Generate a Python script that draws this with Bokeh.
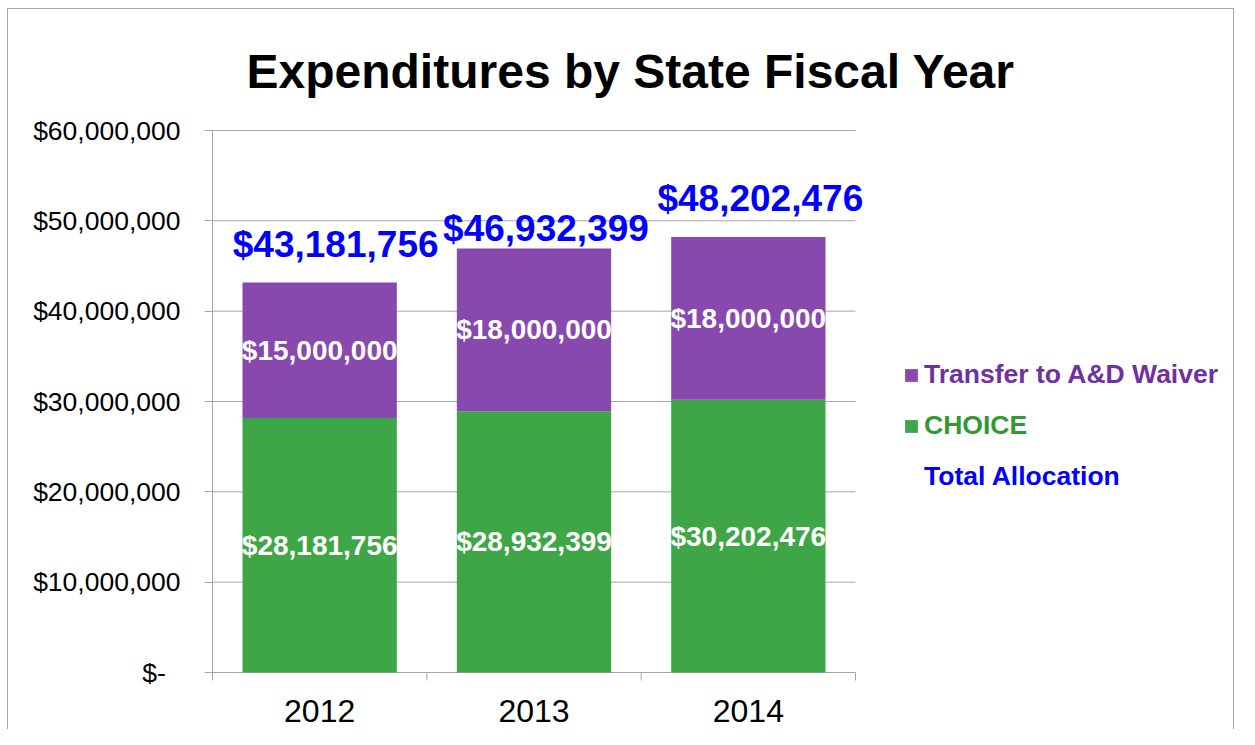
import math
from bokeh.plotting import figure
from bokeh.models import (Range1d, FixedTicker, Legend, LegendItem, ColumnDataSource, LabelSet)
from bokeh.core.properties import value
from bokeh.embed import file_html
from bokeh.resources import INLINE

years = ["2012", "2013", "2014"]
choice = [28181756, 28932399, 30202476]
transfer = [15000000, 18000000, 18000000]
y_ticks = [0, 10000000, 20000000, 30000000, 40000000, 50000000, 60000000]
y_tick_labels = ["$-\u00a0\u00a0", "$10,000,000", "$20,000,000", "$30,000,000",
                 "$40,000,000", "$50,000,000", "$60,000,000"]

# label placement (pixel offsets of the total labels, as in the original)
total_dx = [16, 12, 12]
total_dy = [25, 8, 26]

FONT = "Liberation Sans"
GREEN = "#3EA647"
PURPLE = "#8849AF"
GRAY = "#A6A6A6"

# ---- layout (pixels) ----
W, H = 1239, 729
PLOT_L, PLOT_R, PLOT_T, PLOT_B = 212, 855, 130, 672   # visible plot area
FL, FR, FT, FB = 208, 1232, 125, 684                  # bokeh frame (wider, holds legend)

n = len(years)
Y_MAX = y_ticks[-1]
px_x = (PLOT_R - PLOT_L) / n
px_y = (PLOT_B - PLOT_T) / Y_MAX
x_start = 0.5 - (PLOT_L - FL) / px_x
x_end = 0.5 + (FR - PLOT_L) / px_x
y_start = -(FB - PLOT_B) / px_y
y_end = Y_MAX + (PLOT_T - FT) / px_y

xs = list(range(1, n + 1))
bounds = [x - 0.5 for x in xs] + [xs[-1] + 0.5]
totals = [c + t for c, t in zip(choice, transfer)]
src = ColumnDataSource(dict(
    x=xs,
    choice=choice,
    total=totals,
    choice_mid=[c / 2 for c in choice],
    transfer_mid=[c + t / 2 for c, t in zip(choice, transfer)],
    choice_lbl=[f"${v:,}" for v in choice],
    transfer_lbl=[f"${v:,}" for v in transfer],
    total_lbl=[f"${v:,}" for v in totals],
    dx=total_dx,
    dy=total_dy,
))

p = figure(width=W, height=H, output_backend="svg", toolbar_location=None,
           x_range=Range1d(x_start, x_end), y_range=Range1d(y_start, y_end),
           min_border_left=FL, min_border_right=W - FR, min_border_top=FT,
           min_border_bottom=H - FB)
p.outline_line_color = None
p.border_fill_color = None
p.background_fill_color = "white"
g = f"linear-gradient({GRAY},{GRAY})"
p.styles = {"background": f"{g} 7px 8px / 1px 100% no-repeat, "
                          f"{g} 7px 8px / {W - 13}px 1px no-repeat, "
                          f"{g} {W - 6}px 8px / 1px 100% no-repeat, white"}

p.title.text = "Expenditures by State Fiscal Year"
p.title.text_font = FONT
p.title.text_font_size = "48px"
p.title.text_font_style = "bold"
p.title.text_color = "black"
p.title.align = "left"
p.title.offset = 38
p.title.standoff = 56

# gridlines, axis lines and category ticks
p.xgrid.visible = False
p.ygrid.visible = False
p.segment(x0=[0.5] * len(y_ticks), x1=[n + 0.5] * len(y_ticks), y0=y_ticks, y1=y_ticks,
          line_color=GRAY, line_width=1)
p.segment(x0=[0.5], x1=[0.5], y0=[0], y1=[Y_MAX], line_color=GRAY, line_width=1)
p.ray(x=bounds, y=[0] * len(bounds), length=8, length_units="screen",
      angle=-math.pi / 2, line_color=GRAY, line_width=1)

r_choice = p.vbar(x="x", bottom=0, top="choice", width=0.72, source=src,
                  fill_color=GREEN, line_color=None)
r_tr = p.vbar(x="x", bottom="choice", top="total", width=0.72, source=src,
              fill_color=PURPLE, line_color=None)
r_tot = p.scatter(x=[1], y=[1], size=0, alpha=0)

for ycol, tcol in (("choice_mid", "choice_lbl"), ("transfer_mid", "transfer_lbl")):
    p.text(x="x", y=ycol, text=tcol, source=src, text_color="white",
           text_font=value(FONT), text_font_size="28px", text_font_style="bold",
           text_align="center", text_baseline="middle")

tot_labels = LabelSet(x="x", y="total", text="total_lbl", source=src,
                      x_offset="dx", y_offset="dy", text_color="#0000FF",
                      text_font=value(FONT), text_font_size="37px",
                      text_font_style="bold", text_align="center",
                      text_baseline="alphabetic")
p.add_layout(tot_labels)

# axes
p.xaxis.ticker = FixedTicker(ticks=xs, minor_ticks=[])
p.xaxis.major_label_overrides = {x: y for x, y in zip(xs, years)}
p.xaxis.major_tick_out = 0
p.xaxis.major_tick_in = 0
p.xaxis.minor_tick_line_color = None
p.xaxis.axis_line_color = None
p.xaxis.major_label_text_font = FONT
p.xaxis.major_label_text_font_size = "32px"
p.xaxis.major_label_text_color = "black"
p.xaxis.major_label_standoff = 15

p.yaxis.ticker = FixedTicker(ticks=y_ticks, minor_ticks=[])
p.yaxis.major_label_overrides = {t: l for t, l in zip(y_ticks, y_tick_labels)}
p.yaxis.major_tick_out = 4
p.yaxis.major_tick_in = 4
p.yaxis.minor_tick_line_color = None
p.yaxis.major_tick_line_color = GRAY
p.yaxis.axis_line_color = None
p.yaxis.major_label_text_font = FONT
p.yaxis.major_label_text_font_size = "26.5px"
p.yaxis.major_label_text_color = "black"
p.yaxis.major_label_standoff = 24

legend_specs = [("Transfer to A&D Waiver", r_tr, "#7030A0", 294),
                ("CHOICE", r_choice, "#339933", 243),
                ("Total Allocation", r_tot, "#0000FF", 192)]
for label, rend, col, ypos in legend_specs:
    leg = Legend(items=[LegendItem(label=label, renderers=[rend])],
                 location=(903 - FL, ypos), label_text_color=col,
                 label_text_font=FONT, label_text_font_size="26.5px",
                 label_text_font_style="bold", glyph_width=16, glyph_height=16,
                 label_standoff=5, padding=0, margin=0, spacing=0,
                 border_line_color=None, background_fill_alpha=0)
    p.add_layout(leg)

open("out.html", "w").write(file_html(p, INLINE))
